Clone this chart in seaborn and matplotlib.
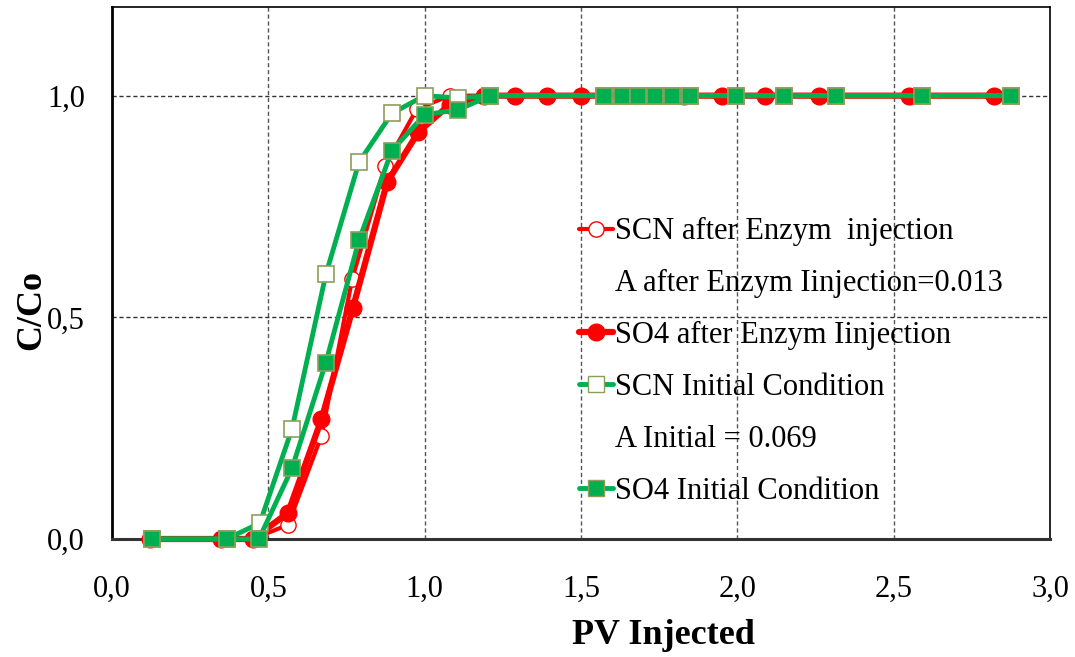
import matplotlib
matplotlib.use("Agg")
import matplotlib.pyplot as plt
from matplotlib.lines import Line2D
import seaborn as sns

# ---- data ----
scn_after_x = [0.12, 0.35, 0.45, 0.563, 0.67, 0.768, 0.873, 0.975, 1.08, 1.19,
               1.29, 1.39, 1.50, 1.83, 1.95, 2.09, 2.26, 2.55, 2.82]
scn_after_y = [0.0, 0.0, 0.0, 0.032, 0.233, 0.586, 0.841, 0.97, 1.0, 1.0,
               1.0, 1.0, 1.0, 1.0, 1.0, 1.0, 1.0, 1.0, 1.0]
so4_after_x = [0.12, 0.35, 0.45, 0.563, 0.67, 0.77, 0.88, 0.98, 1.08, 1.19,
               1.29, 1.39, 1.50, 1.83, 1.95, 2.09, 2.26, 2.55, 2.82]
so4_after_y = [0.0, 0.0, 0.0, 0.059, 0.27, 0.52, 0.805, 0.918, 0.98, 1.0,
               1.0, 1.0, 1.0, 1.0, 1.0, 1.0, 1.0, 1.0, 1.0]
scn_init_x = [0.128, 0.367, 0.473, 0.576, 0.684, 0.79, 0.895, 1.0, 1.106, 1.21,
              1.573, 1.631, 1.682, 1.737, 1.791, 1.848, 1.995, 2.149, 2.315, 2.59, 2.875]
scn_init_y = [0.0, 0.0, 0.036, 0.249, 0.597, 0.85, 0.96, 1.0, 0.995, 1.0,
              1.0, 1.0, 1.0, 1.0, 1.0, 1.0, 1.0, 1.0, 1.0, 1.0, 1.0]
so4_init_x = [0.128, 0.367, 0.47, 0.576, 0.684, 0.79, 0.895, 1.0, 1.106, 1.21,
              1.573, 1.631, 1.682, 1.737, 1.791, 1.848, 1.995, 2.149, 2.315, 2.59, 2.875]
so4_init_y = [0.0, 0.0, 0.0, 0.16, 0.398, 0.674, 0.876, 0.957, 0.968, 1.0,
              1.0, 1.0, 1.0, 1.0, 1.0, 1.0, 1.0, 1.0, 1.0, 1.0, 1.0]

labels = ["SCN after Enzym  injection", "A after Enzym Iinjection=0.013",
          "SO4 after Enzym Iinjection", "SCN Initial Condition",
          "A Initial = 0.069", "SO4 Initial Condition"]
x_ticks = [0.0, 0.5, 1.0, 1.5, 2.0, 2.5, 3.0]
x_tick_labels = ["0,0", "0,5", "1,0", "1,5", "2,0", "2,5", "3,0"]
y_ticks = [0.0, 0.5, 1.0]
y_tick_labels = ["0,0", "0,5", "1,0"]

sns.set_theme(style="white")
plt.rcParams['font.family'] = ['Liberation Serif', 'DejaVu Serif']
plt.rcParams['text.color'] = 'black'
plt.rcParams['axes.labelcolor'] = 'black'

RED = "#FF0000"
GREEN = "#00B050"
OLIVE = "#8E9E5A"

fig = plt.figure(figsize=(10.75, 6.57), dpi=100)
ax = fig.add_axes([112/1075, 118/657, (1050-112)/1075, 532/657])

common = dict(ax=ax, sort=False, estimator=None, clip_on=False)
sns.lineplot(x=scn_after_x, y=scn_after_y, color=RED, lw=3, marker='o', markersize=11,
             markerfacecolor='white', markeredgecolor=RED, markeredgewidth=1.0,
             zorder=3, **common)
sns.lineplot(x=so4_after_x, y=so4_after_y, color=RED, lw=4.5, marker='o', markersize=12,
             markerfacecolor=RED, markeredgecolor=RED, markeredgewidth=1.0,
             zorder=4, **common)
sns.lineplot(x=scn_init_x, y=scn_init_y, color=GREEN, lw=3.5, marker='s', markersize=11,
             markerfacecolor='white', markeredgecolor=OLIVE, markeredgewidth=1.2,
             zorder=5, **common)
sns.lineplot(x=so4_init_x, y=so4_init_y, color=GREEN, lw=3.5, marker='s', markersize=11,
             markerfacecolor=GREEN, markeredgecolor=OLIVE, markeredgewidth=1.2,
             zorder=6, **common)

ax.set_xlim(0, 3.0)
ax.set_ylim(0, 1.2)
ax.set_xticks(x_ticks)
ax.set_xticklabels(x_tick_labels)
ax.set_yticks(y_ticks)
ax.set_yticklabels(y_tick_labels)
ax.tick_params(axis='both', labelsize=22, colors='black', direction='inout',
               length=9, width=1.2)
ax.tick_params(axis='y', pad=15)
ax.tick_params(axis='x', pad=21)

for v in x_ticks[1:-1]:
    ax.axvline(v, color='#555555', lw=1.0, ls=(0, (3, 2)), zorder=1)
for v in y_ticks[1:]:
    ax.axhline(v, color='#333333', lw=1.0, ls=(0, (3, 2)), zorder=1)

ax.spines['left'].set_linewidth(2.0)
ax.spines['left'].set_color('black')
ax.spines['bottom'].set_linewidth(2.2)
ax.spines['bottom'].set_color('#333333')
ax.spines['top'].set_linewidth(1.2)
ax.spines['top'].set_color('black')
ax.spines['right'].set_linewidth(1.2)
ax.spines['right'].set_color('black')

ax.set_xlabel("PV Injected", fontsize=26, fontweight='bold', color='black')
ax.set_ylabel("C/Co", fontsize=26, fontweight='bold', color='black')
ax.xaxis.set_label_coords((663-112)/938, (539-619)/532)
ax.yaxis.set_label_coords((48-112)/938, (539-310)/532)

handles = [
    Line2D([], [], color=RED, lw=3, marker='o', markersize=11, markerfacecolor='white',
           markeredgecolor=RED),
    Line2D([], [], color='none', lw=0),
    Line2D([], [], color=RED, lw=4.5, marker='o', markersize=12, markerfacecolor=RED,
           markeredgecolor=RED),
    Line2D([], [], color=GREEN, lw=3.5, marker='s', markersize=11, markerfacecolor='white',
           markeredgecolor=OLIVE),
    Line2D([], [], color='none', lw=0),
    Line2D([], [], color=GREEN, lw=3.5, marker='s', markersize=11, markerfacecolor=GREEN,
           markeredgecolor=OLIVE),
]
leg = ax.legend(handles, labels, loc='upper left', bbox_to_anchor=(564/1075, 1 - 202/657),
                bbox_transform=fig.transFigure, frameon=False, fontsize=22,
                handlelength=1.1, handletextpad=0.08, labelspacing=0.75, borderpad=0,
                labelcolor='black')
leg.set_zorder(10)

fig.savefig("out.png", dpi=100)
